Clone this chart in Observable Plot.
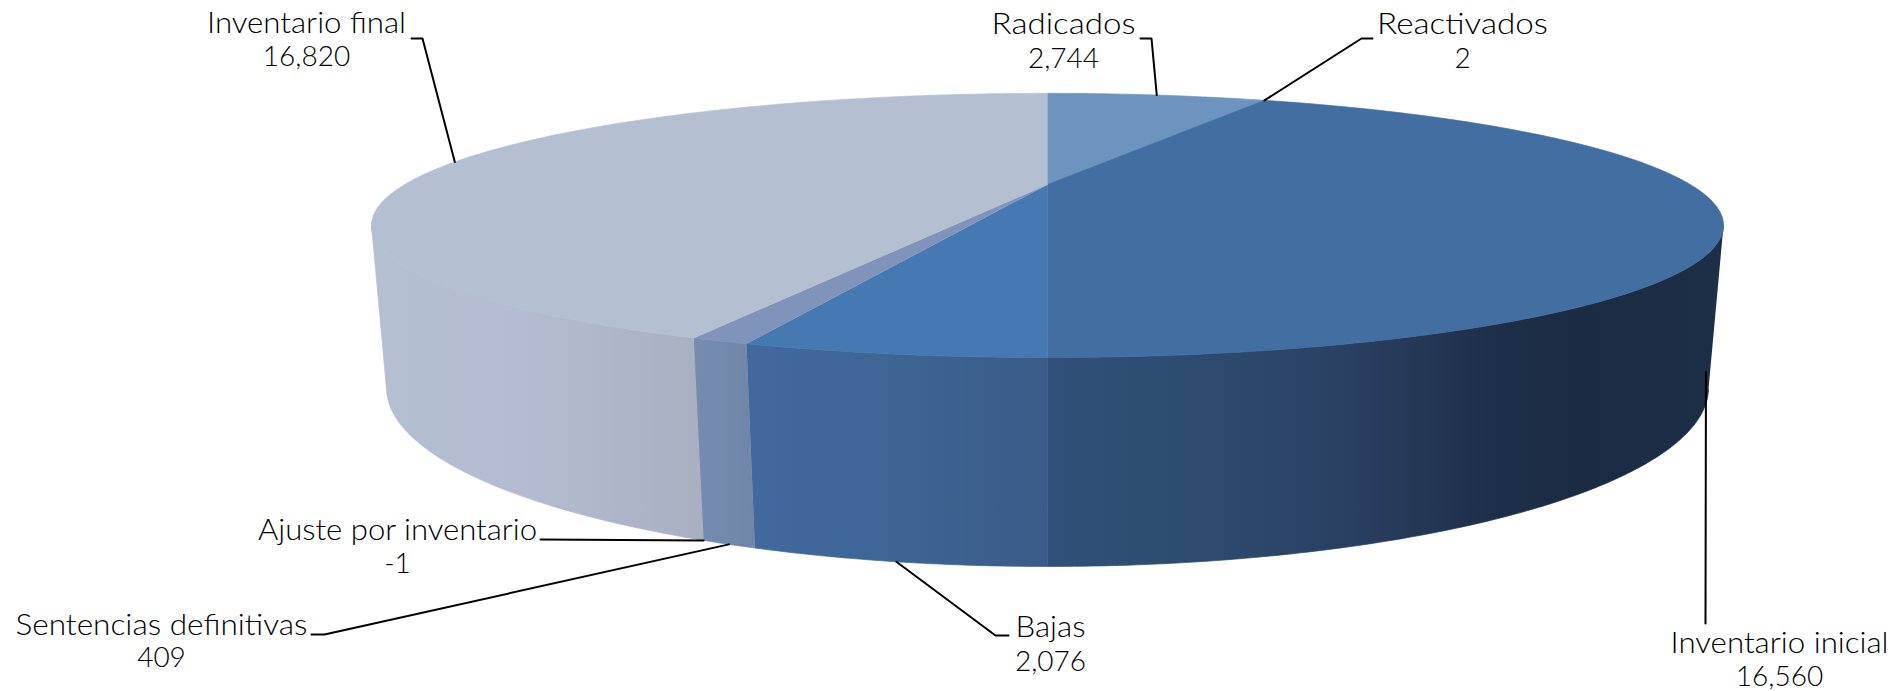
<!DOCTYPE html>
<html><head><meta charset="utf-8">
<style>html,body{margin:0;padding:0;background:#fff;overflow:hidden}svg{display:block}</style>
<script src="https://cdn.jsdelivr.net/npm/d3@7"></script>
<script src="https://cdn.jsdelivr.net/npm/@observablehq/plot@0.6"></script>
</head><body><div id="chart"></div>
<script>
// Data, clockwise from 12 o'clock
const names = ["Radicados","Reactivados","Inventario inicial","Bajas","Sentencias definitivas","Ajuste por inventario","Inventario final"];
const values = [2744,2,16560,2076,409,-1,16820];

// Styles
const topColors = ["#6C94BE","#6C94BE","#426EA1","#4678B2","#7F93BB","#7F93BB","#B5BFD2"];
const wallStops = [
  [[0,"#6C94BE"],[1,"#6C94BE"]],
  [[0,"#6C94BE"],[1,"#6C94BE"]],
  [[0,"#30507A"],[0.2,"#2D4C70"],[0.45,"#2A4062"],[0.65,"#1E2F49"],[0.78,"#1B2B43"],[1,"#1D2E47"]],
  [[0,"#41699E"],[0.5,"#3D6594"],[1,"#3B5A88"]],
  [[0,"#758BB0"],[1,"#7086A8"]],
  [[0,"#7086A8"],[1,"#7086A8"]],
  [[0,"#B5BFD2"],[0.47,"#B3BCD0"],[1,"#A9AFC1"]]
];

// Label layout (pixels of the plot frame)
const labelX = [1063,1462,1779,1050,161,397,306];
const nameWidth = [144,171,218,70,292,279,199];
const nameY = [24,24,643,627,625,530,23];
const valueY = [59,59,677,662,658,564,57];
const anchorDepth = [0,0,1,1,1,1,0];          // 0 = rim of the top face, 1 = rim of the base
const anchorAtEnd = [false,false,false,false,false,true,false]; // -1 slice has no width
const leaderMid = [[1151,38],[1361,38],null,[995,635],[324,634],null,[422,38]];
const leaderEnd = [[1140,38],[1372,38],[1705,623],[1008,635],[311,634],[540,539],[411,38]];

// Perspective of the disc
const view = {cx:1047, cy:184, A:642.7, B:119.4, C:152, p:0.31, q:0.0205};
function project(angle, depth){
  const u = Math.sin(angle), v = -Math.cos(angle);
  const w = 1 - view.p*v + view.q*depth;
  return {px: view.cx + view.A*u/w, py: view.cy + (view.B*v + view.C*depth)/w};
}

const arcs = d3.pie().sort(null).value(d => Math.abs(d))(values);
const arcPts = (from, to, depth) => {
  const n = Math.max(2, Math.ceil((to - from)/0.01));
  return d3.range(n+1).map(i => project(from + (to-from)*i/n, depth));
};
const centre = {px:view.cx, py:view.cy};
// Only the part of the rim that faces the viewer has a wall
const silR = Math.PI - Math.acos(view.p), silL = Math.PI + Math.acos(view.p);

const defs = () => {
  const s = d3.create("svg:defs");
  wallStops.forEach((st,i) => {
    const g = s.append("linearGradient").attr("id","wall"+i).attr("x1",0).attr("x2",1).attr("y1",0).attr("y2",0);
    st.forEach(([o,c]) => g.append("stop").attr("offset",o).attr("stop-color",c));
  });
  return s.node();
};

const poly = (pts, fill) => Plot.line(pts, {x:"px", y:"py", fill, stroke:fill, strokeWidth:0.7, curve:"linear"});

const walls = arcs.flatMap((a,i) => {
  const from = Math.max(a.startAngle, silR), to = Math.min(a.endAngle, silL);
  if (to <= from) return [];
  return [poly([...arcPts(from,to,0), ...arcPts(from,to,1).reverse()], `url(#wall${i})`)];
});
const tops = arcs.map((a,i) => poly([centre, ...arcPts(a.startAngle,a.endAngle,0)], topColors[i]));

const leaders = arcs.flatMap((a,i) => {
  const ang = anchorAtEnd[i] ? a.endAngle : (a.startAngle+a.endAngle)/2;
  const pts = [project(ang, anchorDepth[i])];
  if (leaderMid[i]) pts.push({px:leaderMid[i][0], py:leaderMid[i][1]});
  pts.push({px:leaderEnd[i][0], py:leaderEnd[i][1]});
  return pts.map(p => ({...p, name:names[i]}));
});

const rows = names.map((n,i) => ({name:n, value:values[i].toLocaleString("en-US"), lx:labelX[i], ny:nameY[i], vy:valueY[i]}));
const font = {fontFamily:"Lato", fontWeight:300, fill:"#000", textAnchor:"middle", lineAnchor:"middle"};

const chart = Plot.plot({
  width:1898, height:691, margin:0,
  x:{domain:[0,1898], range:[0,1898], axis:null},
  y:{domain:[0,691], range:[0,691], axis:null},
  marks:[
    defs,
    ...walls,
    ...tops,
    Plot.line(leaders,{x:"px",y:"py",z:"name",stroke:"#000",strokeWidth:2,curve:"linear"}),
    Plot.text(rows,{x:"lx",y:"ny",text:"name",...font,fontSize:29,
      render(index, scales, channels, dimensions, context, next){
        const g = next(index, scales, channels, dimensions, context);
        d3.select(g).selectAll("text").each(function(_, k){
          this.setAttribute("textLength", nameWidth[index[k]]);
          this.setAttribute("lengthAdjust", "spacingAndGlyphs");
        });
        return g;
      }}),
    Plot.text(rows,{x:"lx",y:"vy",text:"value",...font,fontSize:28})
  ]
});
document.getElementById("chart").append(chart);
</script></body></html>
